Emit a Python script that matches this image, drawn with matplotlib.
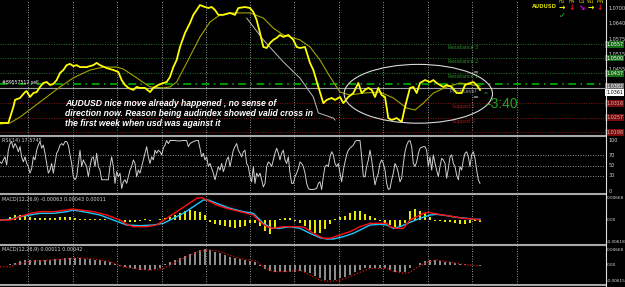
import numpy as np
import matplotlib
matplotlib.use("Agg")
import matplotlib.pyplot as plt
from matplotlib.lines import Line2D
from matplotlib.patches import Ellipse

# ---------------- data ----------------
price_bar = [0, 5, 8, 9, 12, 15, 16, 18, 20, 22, 24, 26, 28, 30, 32, 34, 36, 38, 40, 42, 44, 46, 48, 52, 56, 58,
             60, 64, 68, 71, 73, 75, 77, 80, 82, 84, 87, 90, 92, 95, 98, 100, 102, 104, 106, 108, 111, 114, 116,
             118, 120, 123, 125, 127, 129, 131, 134, 138, 141, 143, 147, 150, 152, 154, 156, 158, 160, 162, 164,
             166, 168, 170, 173, 176, 178, 180, 183, 186, 188, 191, 194, 196, 199, 201, 204, 206, 209, 212, 215,
             217, 219, 221, 223, 225, 227, 229, 231, 233, 235, 238, 241, 243, 246, 248, 250, 252, 255, 258, 260,
             262, 264, 266, 268, 271, 274, 277, 279, 282, 284, 286, 288]
price_val = [1.0235, 1.0235, 1.0300, 1.0329, 1.0337, 1.0361, 1.0365, 1.0341, 1.0357, 1.0361, 1.0382, 1.0398,
             1.0402, 1.0390, 1.0394, 1.0410, 1.0439, 1.0451, 1.0471, 1.0476, 1.0467, 1.0471, 1.0463, 1.0463,
             1.0471, 1.0480, 1.0471, 1.0459, 1.0451, 1.0443, 1.0410, 1.0390, 1.0378, 1.0370, 1.0382, 1.0378,
             1.0378, 1.0361, 1.0378, 1.0390, 1.0398, 1.0402, 1.0423, 1.0463, 1.0492, 1.0545, 1.0602, 1.0643,
             1.0676, 1.0696, 1.0716, 1.0708, 1.0704, 1.0708, 1.0696, 1.0676, 1.0676, 1.0684, 1.0676, 1.0704,
             1.0708, 1.0704, 1.0688, 1.0655, 1.0602, 1.0545, 1.0541, 1.0561, 1.0574, 1.0582, 1.0594, 1.0586,
             1.0594, 1.0574, 1.0545, 1.0541, 1.0545, 1.0480, 1.0451, 1.0382, 1.0316, 1.0329, 1.0337, 1.0329,
             1.0341, 1.0316, 1.0341, 1.0357, 1.0398, 1.0357, 1.0370, 1.0378, 1.0370, 1.0341, 1.0378, 1.0349,
             1.0341, 1.0255, 1.0247, 1.0255, 1.0239, 1.0300, 1.0378, 1.0382, 1.0357, 1.0398, 1.0410, 1.0402,
             1.0410, 1.0398, 1.0390, 1.0382, 1.0390, 1.0382, 1.0357, 1.0357, 1.0390, 1.0398, 1.0402, 1.0390,
             1.0370]

ma_bar = [0, 6, 12, 20, 28, 36, 44, 54, 62, 70, 74, 82, 90, 98, 102, 106, 112, 120, 126, 132, 140, 150, 158,
          164, 170, 176, 180, 186, 192, 198, 204, 210, 218, 228, 236, 244, 249, 254, 260, 268, 276, 284, 288]
ma_val = [1.0231, 1.0235, 1.0259, 1.0300, 1.0341, 1.0382, 1.0419, 1.0451, 1.0463, 1.0463, 1.0455, 1.0419,
          1.0382, 1.0378, 1.0382, 1.0402, 1.0480, 1.0586, 1.0647, 1.0676, 1.0684, 1.0684, 1.0663, 1.0622,
          1.0594, 1.0582, 1.0574, 1.0545, 1.0492, 1.0423, 1.0361, 1.0349, 1.0357, 1.0361, 1.0337, 1.0296,
          1.0288, 1.0316, 1.0357, 1.0382, 1.0398, 1.0390, 1.0386]

trend_bar = [148, 158, 170, 180, 188, 191, 200, 201]
trend_val = [1.0663, 1.0574, 1.0484, 1.0418, 1.0341, 1.0276, 1.0255, 1.0247]

res_names = ["Resistance 3", "Resistance 2", "Resistance 1"]
res_vals = [1.0557, 1.0500, 1.0437]
sup_names = ["Support 1", "Support 2", "Support 3"]
sup_vals = [1.0316, 1.0257, 1.0198]
pivot_val = 1.0392
order_val = 1.0378
pivot_box = 1.0382
bid_val = 1.0361
price_ticks = [1.0700, 1.0640, 1.0575, 1.0515, 1.0455]

rsi_bar = list(range(0, 101)) + [101, 102, 103, 105, 107, 110, 112, 113, 114, 116, 118, 119, 120, 121, 122,
                                  123, 124, 125, 126, 128, 129, 130, 131, 132, 133, 134, 135, 136, 137, 138] \
          + list(range(140, 187)) + [188] + list(range(190, 253)) + list(range(254, 289))
rsi_val = [57, 54, 61, 67, 51, 80, 93, 97, 84, 93, 87, 77, 87, 67, 57, 67, 54, 48, 35, 44, 67, 61, 80, 90, 97,
           84, 90, 74, 54, 35, 41, 54, 35, 54, 74, 80, 90, 93, 90, 97, 97, 90, 71, 54, 28, 22, 28, 54, 80, 48,
           61, 54, 48, 28, 48, 64, 67, 48, 74, 48, 41, 22, 22, 22, 22, 22, 48, 67, 48, 15, 38, 28, 35, 5, 18,
           22, 15, 28, 41, 48, 61, 54, 28, 41, 35, 48, 61, 74, 87, 67, 54, 67, 61, 80, 74, 80, 77, 71, 84, 90,
           99,
           93, 99, 99, 99, 98, 99, 99, 87, 93, 97, 99, 99, 84, 67, 74, 61, 67, 48, 54, 35, 22, 35, 48, 41, 54,
           38, 48, 61, 67, 48,
           80, 87, 93, 80, 74, 67, 77, 80, 54, 48, 28, 18, 48, 15, 35, 28, 35, 22, 8, 15, 48, 57, 54, 48, 61,
           74, 84, 74, 61, 74, 80, 61, 54, 67, 35, 15, 15, 28, 35, 44, 57, 54, 48, 35, 15, 5, 3,
           3,
           5, 15, 18, 3, 28, 48, 51, 48, 67, 77, 71, 54, 48, 54, 35, 18, 41, 57, 71, 80, 84, 87, 90, 97, 99, 99,
           99, 67, 28, 28, 48, 61, 80, 61, 35, 12, 25, 35, 54, 61, 54, 41, 15, 3, 5, 22, 35, 54, 48, 35, 18, 25,
           54, 77, 90, 97, 99, 87, 54, 48, 57, 74, 84,
           87, 87, 80, 48, 67, 41, 71, 54, 41, 28, 48, 64, 61, 54, 25, 44, 67, 71, 54, 48, 31, 22, 48, 41, 61,
           74, 77, 67, 48, 71, 77, 64, 41, 22, 15]
rsi_levels = [70, 50, 30]

# MACD values in units of 1e-4
macd_red_bar = [0, 6, 12, 18, 24, 32, 40, 43, 48, 56, 64, 72, 76, 80, 88, 94, 100, 106, 112, 118, 121, 124,
                130, 136, 144, 152, 156, 160, 164, 170, 176, 180, 183, 188, 194, 198, 204, 210, 216, 222, 228,
                232, 234, 238, 242, 246, 250, 254, 257, 260, 266, 272, 278, 284, 288]
macd_red_val = [0, 0, 10, 20, 25, 25, 30, 33, 30, 25, 15, 0, -13, -20, -20, -15, 5, 25, 45, 65, 67, 60, 45,
                35, 25, 15, -5, -20, -25, -20, -20, -20, -23, -40, -55, -55, -45, -35, -20, -10, -10, -10, -20,
                -25, -25, 0, 10, 20, 23, 20, 15, 10, 5, 3, 0]
macd_cyan_bar = [0, 6, 12, 18, 24, 32, 40, 44, 52, 60, 68, 76, 84, 92, 98, 104, 110, 116, 122, 125, 130, 138,
                 146, 152, 158, 163, 168, 174, 180, 186, 192, 196, 200, 206, 212, 218, 222, 228, 232, 236, 240,
                 246, 252, 258, 262, 268, 274, 280, 284, 288]
macd_cyan_val = [0, 2, 10, 15, 20, 20, 25, 30, 23, 15, 0, -15, -17, -15, -10, 5, 20, 40, 60, 60, 50, 35, 25,
                 20, -10, -25, -25, -20, -25, -40, -53, -57, -57, -50, -40, -25, -15, -13, -15, -25, -20, -7, 5,
                 15, 17, 13, 8, 5, 2, 2]
hist_bar = list(range(0, 289, 3))
hist1 = [0, 1.5, 9, 15, 15, 12, 9, 7.5, 7.5, 6, 6, 7.5, 9, 10.5, 9, 6, 4.5, 4.5, 4.5, 3, 3, 3, 1.5, 0, -3,
         -4.5, -4.5, -4.5, -3, 4.5, -3, 1.5, 4.5, 7.5, 10.5, 15, 21, 27, 30, 27, 24, 15, -4.5, -10.5, -13.5,
         -16.5, -19.5, -22.5, -21, -18, -9, -7.5, -16.5, -33, -42, -24, 4.5, 7.5, 6, -3, -9, -18, -30, -37.5,
         -39, -27, -12, 4.5, 9, 13.5, 21, 28.5, 27, 18, 12, 6, -3, -9, -15, -19.5, -18, -9, 27, 33, 27, 21, 9,
         -1.5, -3, -4.5, -6, -9, -12, -12, -7.5, -3, -4.5]
hist2 = [0, 0, 3, 8, 16, 21, 21, 21, 21, 21, 21, 23, 25, 27, 29, 30, 27, 25, 23, 21, 21, 16, 14, 5, -3, -8,
         -14, -16, -19, -21, -19, -16, -11, 3, 14, 21, 30, 38, 47, 55, 62, 66, 63, 55, 48, 41, 34, 30, 25, 21,
         16, 11, -3, -16, -25, -27, -30, -30, -27, -27, -23, -27, -34, -44, -55, -60, -62, -62, -55, -49, -41,
         -30, -21, -14, -12, -11, -11, -14, -21, -27, -30, -27, -14, 0, 8, 15, 19, 21, 16, 14, 11, 8, 4, 3, 1,
         0, -3]
sig2_bar = [0, 6, 12, 20, 30, 40, 46, 56, 66, 74, 80, 90, 98, 104, 112, 120, 126, 132, 140, 148, 154, 158,
            164, 172, 180, 186, 192, 198, 204, 210, 216, 222, 228, 232, 236, 242, 246, 250, 256, 262, 268, 274,
            280, 288]
sig2_val = [-7, -7, 7, 16, 21, 25, 30, 25, 14, -7, -14, -21, -14, 7, 34, 58, 62, 55, 34, 21, 16, -7, -27,
            -27, -21, -41, -62, -68, -62, -48, -30, -14, -14, -14, -25, -34, -30, -11, 11, 21, 14, 7, 0, -3]

grid_bars = [16.8, 43.8, 70.2, 97.2, 123.6, 150, 176.4, 203.4, 229.8, 256.8, 283.2, 310.2]

# ---------------- figure ----------------
W, H = 625, 287
fig = plt.figure(figsize=(W / 100, H / 100), dpi=100, facecolor="black")
XMAX = 363
plot_w = 605 / W


def px_axes(y0, y1):
    a = fig.add_axes([0, 1 - y1 / H, plot_w, (y1 - y0) / H])
    a.set_facecolor("black")
    a.set_xlim(0, XMAX)
    for s in a.spines.values():
        s.set_visible(False)
    a.set_xticks([])
    a.set_yticks([])
    for gb in grid_bars:
        a.axvline(gb, color="#c8c8c8", lw=0.6, ls=(0, (1, 2)), zorder=1)
    return a


lab_col = "#d8d8d8"
fs_small = 3.5

# main panel
ax = px_axes(0, 135)
ax.set_ylim(1.01859, 1.07367)
for v in res_vals:
    ax.axhline(v, color="#1f7a1f", lw=0.7, ls=(0, (1, 1.5)), zorder=1)
for v in sup_vals:
    ax.axhline(v, color="#8b1414", lw=0.7, ls=(0, (1, 1.5)), zorder=1)
ax.axhline(pivot_val, color="#00c000", lw=1.1, ls=(0, (5, 3, 1, 3)), zorder=2)
ax.axhline(order_val, color="#a0a0a0", lw=0.8, zorder=2)
ax.plot(ma_bar, ma_val, color="#a3a300", lw=0.8, zorder=3)
ax.plot(trend_bar, trend_val, color="#bdbdbd", lw=0.7, zorder=3)
ax.plot(price_bar, price_val, color="#ffff00", lw=1.3, zorder=4)
ax.add_patch(Ellipse((251, 1.0354), 89, 0.0240, fill=False, ec="#d8d8d8", lw=0.8, zorder=5))

for n, v in zip(res_names, res_vals):
    ax.text(269, v - 0.0004, n, color="#2f8f2f", fontsize=3.4, va="top", ha="left")
ax.text(270, order_val - 0.0004, "Pivot Level", color="#9a9a9a", fontsize=3.4, va="top", ha="left")
for n, v in zip(sup_names[:2], sup_vals[:2]):
    ax.text(271, v - 0.0004, n, color="#a01c1c", fontsize=3.4, va="top", ha="left")

ytr = ax.get_yaxis_transform()
for v in price_ticks:
    ax.text(1.006, v, f"{v:.4f}", transform=ytr, color=lab_col, fontsize=fs_small, va="center", ha="left",
            clip_on=False)
for v in res_vals:
    ax.text(1.002, v, f"{v:.4f}", transform=ytr, color="white", fontsize=fs_small, va="center", ha="left",
            clip_on=False, bbox=dict(fc="#176e17", ec="none", pad=0.7))
ax.text(1.002, pivot_box, f"{pivot_box:.4f}", transform=ytr, color="white", fontsize=fs_small, va="center",
        ha="left", clip_on=False, bbox=dict(fc="#6a6a6a", ec="none", pad=0.7))
ax.text(1.002, bid_val, f"{bid_val:.4f}", transform=ytr, color="black", fontsize=fs_small, va="center",
        ha="left", clip_on=False, bbox=dict(fc="white", ec="none", pad=0.7))
for v in sup_vals:
    ax.text(1.002, v, f"{v:.4f}", transform=ytr, color="#e0b0b0", fontsize=fs_small, va="center", ha="left",
            clip_on=False, bbox=dict(fc="#7a0e0e", ec="none", pad=0.7))

note_lines = ["AUDUSD nice move already happened , no sense of",
              "direction now. Reason being audindex showed valid cross in",
              "the first week when usd was against it"]
for i, line in enumerate(note_lines):
    ax.text(65 / 605, 1 - (103 + 10.5 * i) / 135, line, transform=ax.transAxes, color="white",
            fontsize=6.2, fontweight="bold", fontstyle="italic", family="Liberation Sans", va="center")

ax.text(2 / 605, 1 - 82 / 135, "#89557512 sell", transform=ax.transAxes, color="white", fontsize=3.3,
        va="center")

# 3:40 timer
fig.text(486 / W, 1 - 104 / H, "-3:40", color="#22a522", fontsize=10, family="Liberation Sans",
         va="center", ha="left")
fig.text(482 / W, 1 - 95 / H, "^", color="#22a522", fontsize=5, va="center", ha="left")
fig.text(472 / W, 1 - 72 / H, "=", color="#bdbdbd", fontsize=5, va="center", ha="left")
fig.text(472 / W, 1 - 97 / H, "=", color="#bdbdbd", fontsize=5, va="center", ha="left")

# top-right trend panel
fig.text(557 / W, 1 - 7 / H, "AUDUSD", color="#d8d800", fontsize=3.8, fontweight="bold", va="center",
         ha="right")
tfs = ["H1", "H4", "D1", "W1", "MN"]
tf_x = [562, 572, 582, 591, 600]
arrows = ["\u2192", "\u2193", "\u2198", "\u2192", "\u2193"]
arrow_cols = ["#ffff00", "#ff1010", "#ff00ff", "#ffff00", "#ff1010"]
for t, xx, a_, c_ in zip(tfs, tf_x, arrows, arrow_cols):
    fig.text(xx / W, 1 - 1.5 / H, t, color="#d8d800", fontsize=3.3, va="center", ha="center")
    fig.text(xx / W, 1 - 7.5 / H, a_, color=c_, fontsize=5.5, fontweight="bold", va="center", ha="center")
fig.text(562 / W, 1 - 15 / H, "\u2713", color="#22c022", fontsize=6, fontweight="bold", va="center",
         ha="center")

# RSI panel
ax2 = px_axes(137, 193)
ax2.set_ylim(-3.9, 105.9)
for v in rsi_levels:
    ax2.axhline(v, color="#c0c0c0", lw=0.6, ls=(0, (1, 2)), zorder=1)
ax2.plot(rsi_bar, rsi_val, color="#d0d0d0", lw=0.7, zorder=3)
ax2.text(2 / 605, 0.93, "RSI(14) 17.5745", transform=ax2.transAxes, color=lab_col, fontsize=fs_small,
         va="center")
yt2 = ax2.get_yaxis_transform()
for v in [100, 70, 50, 30, 0]:
    ax2.text(1.006, v, str(v), transform=yt2, color=lab_col, fontsize=fs_small, va="center", ha="left",
             clip_on=False)

# MACD 1
ax3 = px_axes(195, 244)
ax3.set_ylim(-72, 75)
ax3.bar(hist_bar, hist1, width=1.6, color="#e8e800", zorder=2)
ax3.plot(macd_cyan_bar, macd_cyan_val, color="#1ec8ff", lw=1.0, zorder=3)
ax3.plot(macd_red_bar, macd_red_val, color="#ff1010", lw=1.0, zorder=4)
ax3.text(2 / 605, 0.9, "MACD(12,26,9) -0.00063 0.00043 0.00011", transform=ax3.transAxes, color=lab_col,
         fontsize=fs_small, va="center")
yt3 = ax3.get_yaxis_transform()
for v, s in [(66, "0.00668"), (0, "0.00"), (-66, "-0.00618")]:
    ax3.text(1.003, v, s, transform=yt3, color=lab_col, fontsize=3.1, va="center", ha="left",
             clip_on=False)

# MACD 2
ax4 = px_axes(246, 284)
ax4.set_ylim(-78, 78)
ax4.bar(hist_bar, hist2, width=1.6, color="#8c8c8c", zorder=2)
ax4.plot(sig2_bar, sig2_val, color="#e01010", lw=0.9, ls=(0, (1, 1.5)), zorder=3)
ax4.text(2 / 605, 0.9, "MACD(12,26,9) 0.00011 0.00042", transform=ax4.transAxes, color=lab_col,
         fontsize=fs_small, va="center")
yt4 = ax4.get_yaxis_transform()
for v, s in [(62, "0.00668"), (0, "0.00"), (-66, "-0.00615")]:
    ax4.text(1.003, v, s, transform=yt4, color=lab_col, fontsize=3.1, va="center", ha="left",
             clip_on=False)

# separators and axis line
for yy in [136, 194, 245, 285]:
    fig.add_artist(Line2D([0, plot_w], [1 - yy / H] * 2, color="#a8a8a8", lw=1.5,
                          transform=fig.transFigure))
fig.add_artist(Line2D([plot_w + 0.5 / W] * 2, [1 - 286 / H, 1], color="#e0e0e0", lw=0.8,
                      transform=fig.transFigure))

fig.savefig("out.png", dpi=100, facecolor="black")
